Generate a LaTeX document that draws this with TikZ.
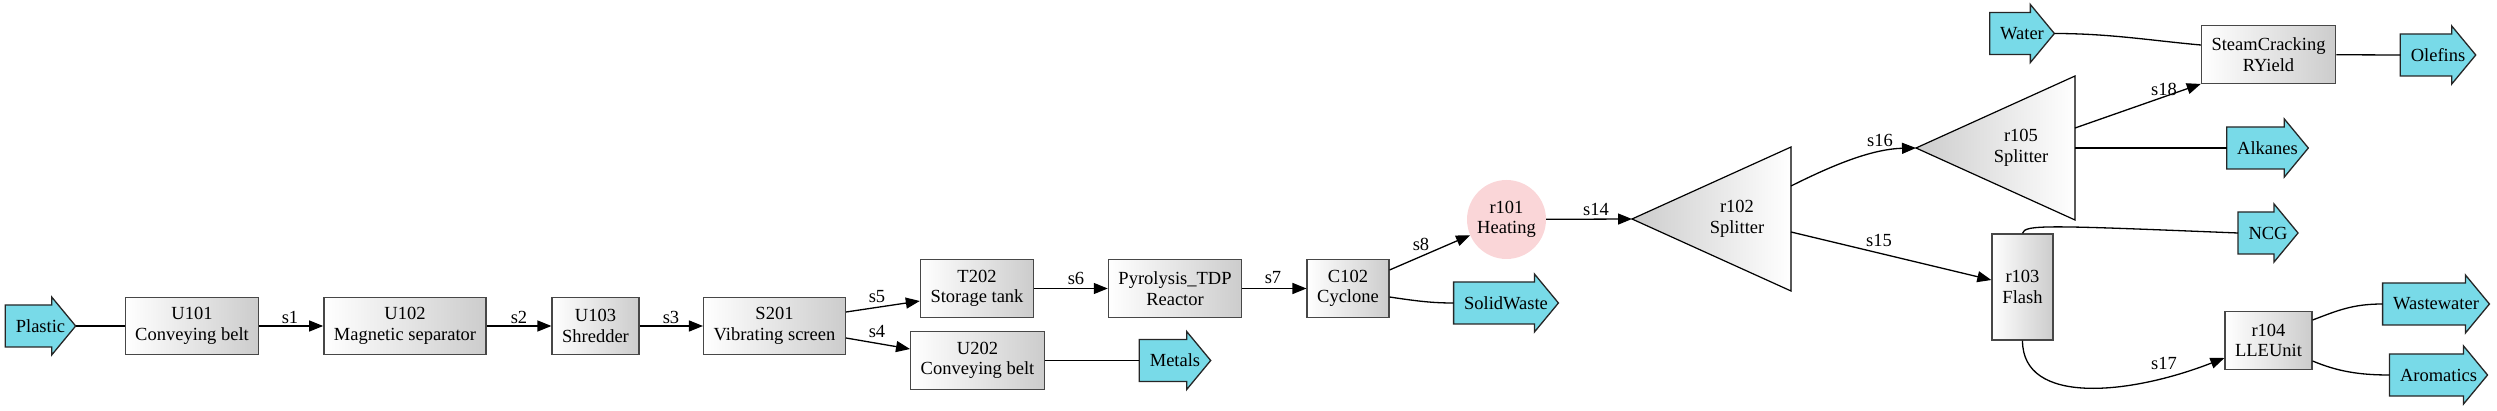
\documentclass[tikz,border=0pt]{standalone}
\usepackage{fontspec}
\setmainfont{Liberation Serif}
\usetikzlibrary{arrows.meta,calc}
\definecolor{cyanfill}{RGB}{120,218,232}
\definecolor{pinkfill}{RGB}{250,214,216}
\definecolor{lgray}{RGB}{204,204,204}
\pgfdeclarelayer{bg}
\pgfsetlayers{bg,main}
\newcommand{\streamshape}[1]{%
  \filldraw[streamline] ($(#1.west)+(0,21pt)$) -- ($(#1.east)+(-24pt,21pt)$) -- ($(#1.north east)+(-24pt,0)$) -- (#1.east) -- ($(#1.south east)+(-24pt,0)$) -- ($(#1.east)+(-24pt,-21pt)$) -- ($(#1.west)+(0,-21pt)$) -- cycle;}
\newcommand{\splittershape}[1]{%
  \path[splitline] (#1.west) -- (#1.north east) -- (#1.south east) -- cycle;}
\begin{document}
\begin{tikzpicture}[x=1pt, y=-1pt,
  every node/.style={font=\fontsize{18.5}{20.5}\selectfont},
  unit/.style={draw=black!72, line width=1.4pt, left color=white, right color=lgray, minimum height=57.5pt, inner xsep=10pt, inner ysep=2pt, align=center},
  stream/.style={minimum height=58pt, inner xsep=10.5pt, inner ysep=0pt, outer sep=0pt},
  streamline/.style={fill=cyanfill, draw=black!85, line width=1.3pt, line join=miter},
  splitter/.style={minimum width=159pt, minimum height=144pt, inner sep=0pt, outer sep=0pt},
  splitline/.style={draw=black, line width=1.2pt, left color=lgray, right color=white},
  flow/.style={draw=black, line width=1.3pt, -{Triangle[length=14pt,width=11pt]}},
  plain/.style={draw=black, line width=1.3pt},
  lbl/.style={inner sep=0pt}
]
\useasboundingbox (0,0) rectangle (2497,411);
% nodes
\node[stream] (Plastic) at (40.5,326) {Plastic};
\node[unit] (U101) at (192,326) {U101\\Conveying belt};
\node[unit] (U102) at (405,326) {U102\\Magnetic separator};
\node[unit] (U103) at (595.5,326) {U103\\Shredder};
\node[unit] (S201) at (774.5,326) {S201\\Vibrating screen};
\node[unit] (T202) at (977,288.5) {T202\\Storage tank};
\node[unit] (U202) at (977.5,360.5) {U202\\Conveying belt};
\node[stream] (Metals) at (1175,360.5) {Metals};
\node[unit] (PYR) at (1175,288.5) {Pyrolysis\_TDP\\Reactor};
\node[unit] (C102) at (1348,288.5) {C102\\Cyclone};
\node[circle, fill=pinkfill, minimum size=79pt, inner sep=0pt, align=center] (r101) at (1506.5,219.5) {r101\\Heating};
\node[stream] (SolidWaste) at (1506,303) {SolidWaste};
\node[splitter, label={[align=center, xshift=25.5pt]center:r102\\Splitter}] (r102) at (1711.5,219) {};
\node[splitter, label={[align=center, xshift=25.5pt]center:r105\\Splitter}] (r105) at (1995.5,148) {};
\node[unit, minimum width=61pt, minimum height=106pt, inner xsep=0pt] (r103) at (2022.5,287) {r103\\Flash};
\node[stream] (NCG) at (2268,233) {NCG};
\node[stream] (Water) at (2022,33.5) {Water};
\node[unit] (SC) at (2268.5,54.5) {SteamCracking\\RYield};
\node[stream] (Olefins) at (2438,55) {Olefins};
\node[stream] (Alkanes) at (2267.5,148) {Alkanes};
\node[unit] (r104) at (2268.5,340.5) {r104\\LLEUnit};
\node[stream] (Wastewater) at (2436,304) {Wastewater};
\node[stream] (Aromatics) at (2438.5,375) {Aromatics};
% shapes on background
\begin{pgfonlayer}{bg}
\foreach \n in {Plastic,Metals,SolidWaste,NCG,Water,Olefins,Alkanes,Wastewater,Aromatics} {\streamshape{\n}}
\splittershape{r102}
\splittershape{r105}
\end{pgfonlayer}
% connectors
\draw[plain] (Plastic.east) -- (U101.west);
\draw[flow] (U101) -- (U102);
\draw[flow] (U102) -- (U103);
\draw[flow] (U103) -- (S201);
\draw[flow] ($(S201.east)+(0,14pt)$) -- ($(T202.west)+(0,-12.5pt)$);
\draw[flow] ($(S201.east)+(0,-12pt)$) -- ($(U202.west)+(0,11.5pt)$);
\draw[flow] (T202) -- (PYR);
\draw[plain] (U202) -- (Metals.west);
\draw[flow] (PYR) -- (C102);
\draw[flow] ($(C102.east)+(0,18.5pt)$) -- (r101);
\draw[plain] ($(C102.east)+(0,-8.5pt)$) .. controls ($(C102.east)+(30pt,-13pt)$) and ($(SolidWaste.west)+(-20pt,0)$) .. (SolidWaste.west);
\draw[flow] (r101) -- (r102.west);
\draw[flow] ($(r102.east)+(0,33pt)$) .. controls ($(r102.east)+(40pt,53pt)$) and ($(r105.west)+(-45pt,-1pt)$) .. (r105.west);
\draw[flow] ($(r102.east)+(0,-13pt)$) -- ($(r103.west)+(0,7pt)$);
\draw[flow] ($(r105.east)+(0,20pt)$) -- (SC.south west);
\draw[plain] (r105.east) -- (Alkanes.west);
\draw[plain] (Water.east) .. controls ($(Water.east)+(55pt,0)$) and ($(SC.west)+(-50pt,14pt)$) .. ($(SC.west)+(0,9.5pt)$);
\draw[plain] (SC) -- (Olefins.west);
\draw[plain] (r103.north) .. controls ($(r103.north)+(2pt,9pt)$) and ($(r103.north)+(25pt,8pt)$) .. (NCG.west);
\draw[flow] (r103.south) .. controls ($(r103.south)+(0,-65pt)$) and ($(r104.west)+(-95pt,-54.5pt)$) .. ($(r104.west)+(0,-17.5pt)$);
\draw[plain] ($(r104.east)+(0,20.5pt)$) .. controls ($(r104.east)+(25pt,30pt)$) and ($(Wastewater.west)+(-30pt,0)$) .. (Wastewater.west);
\draw[plain] ($(r104.east)+(0,-20.5pt)$) .. controls ($(r104.east)+(25pt,-31pt)$) and ($(Aromatics.west)+(-30pt,0)$) .. (Aromatics.west);
% labels
\node[lbl] (ls1) at (290,317) {s1};
\node[lbl] (ls2) at (519,317) {s2};
\node[lbl] (ls3) at (671,317) {s3};
\node[lbl] (ls5) at (877,297) {s5};
\node[lbl] (ls4) at (877,332) {s4};
\node[lbl] (ls6) at (1076,278) {s6};
\node[lbl] (ls7) at (1273,278) {s7};
\node[lbl] (ls8) at (1421,244) {s8};
\node[lbl] (ls14) at (1596,209) {s14};
\node[lbl] (ls16) at (1880,140) {s16};
\node[lbl] (ls15) at (1879,240) {s15};
\node[lbl] (ls18) at (2164,89) {s18};
\node[lbl] (ls17) at (2164,363) {s17};
\end{tikzpicture}
\end{document}
